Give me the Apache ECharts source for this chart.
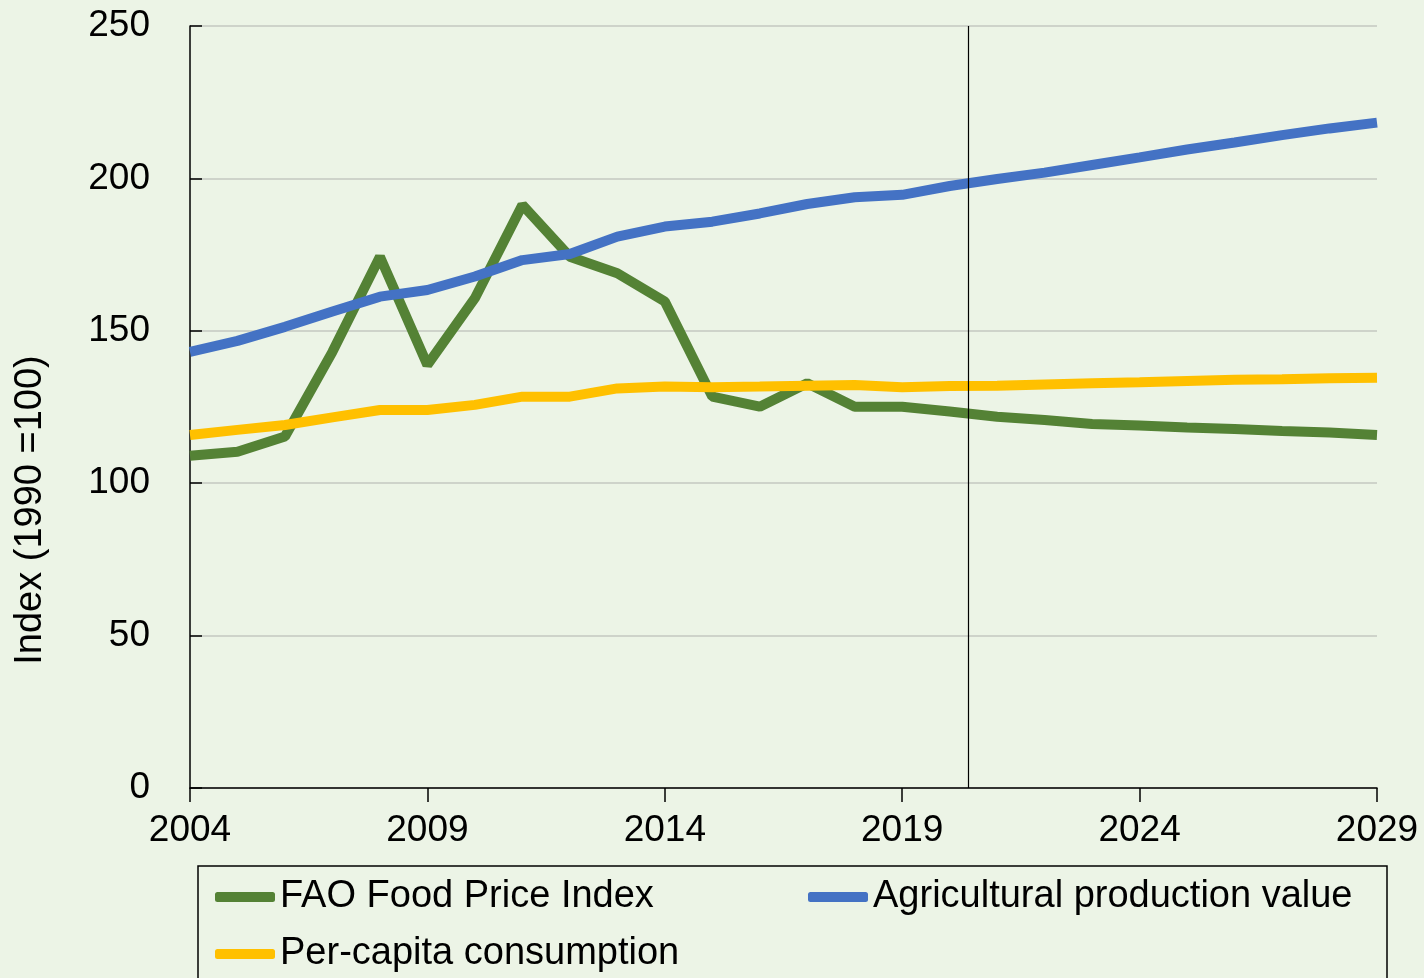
<!DOCTYPE html>
<html>
<head>
<meta charset="utf-8">
<script src="https://cdn.jsdelivr.net/npm/echarts@6/dist/echarts.min.js"></script>
<style>
  html, body { margin: 0; padding: 0; background: #ecf4e6; }
  #chart { width: 1424px; height: 978px; }
</style>
</head>
<body>
<div id="chart"></div>
<script>
// years 2004 .. 2029
const years = [2004, 2005, 2006, 2007, 2008, 2009, 2010, 2011, 2012, 2013, 2014, 2015, 2016,
    2017, 2018, 2019, 2020, 2021, 2022, 2023, 2024, 2025, 2026, 2027, 2028, 2029]
const foodPrice = [109, 110.3, 115.3, 143.1, 174.3, 138.8, 160.7, 191.3, 174.3, 168.9, 159.6, 128.4, 125.1,
    132.8, 125.1, 125.1, 123.5, 121.8, 120.7, 119.4, 118.9, 118.3, 117.8, 117.1, 116.6, 115.8]
const prodValue = [143.1, 146.7, 151.3, 156.3, 161.2, 163.4, 167.8, 173.2, 175.2, 180.9, 184.2, 185.8, 188.5,
    191.6, 193.8, 194.6, 197.5, 199.8, 201.9, 204.4, 206.9, 209.5, 211.8, 214.2, 216.4, 218.3]
const perCapita = [115.8, 117.5, 119.1, 121.6, 124.0, 124.0, 125.7, 128.4, 128.4, 131.1, 131.7, 131.5, 131.7,
    132.0, 132.2, 131.5, 131.9, 132.0, 132.4, 132.8, 133.1, 133.5, 133.9, 134.1, 134.4, 134.6]
const seriesNames = ['FAO Food Price Index', 'Agricultural production value', 'Per-capita consumption']
const projectionStart = 2020.4

const font = 'Liberation Sans'
const pairs = arr => years.map((y, i) => [y, arr[i]])

const chart = echarts.init(document.getElementById('chart'))

const legendBase = {
    orient: 'horizontal',
    padding: 0,
    itemWidth: 60,
    itemHeight: 10,
    icon: 'roundRect',
    textStyle: { fontFamily: font, fontSize: 38, color: '#000' }
}

chart.setOption({
    backgroundColor: '#ecf4e6',
    animation: false,
    grid: { left: 190, right: 47, top: 26, bottom: 190 },
    legend: [
        Object.assign({ left: 215, top: 878, data: [seriesNames[0]] }, legendBase),
        Object.assign({ left: 808, top: 878, data: [seriesNames[1]] }, legendBase),
        Object.assign({ left: 215, top: 935, data: [seriesNames[2]] }, legendBase)
    ],
    graphic: [
        {
            type: 'rect',
            shape: { x: 198, y: 866, width: 1189, height: 200 },
            style: { fill: 'none', stroke: '#000', lineWidth: 1.5 }
        },
        {
            type: 'text',
            x: 31,
            y: 510,
            rotation: Math.PI / 2,
            style: {
                text: 'Index (1990 =100)',
                fontFamily: font,
                fontSize: 38,
                fill: '#000',
                align: 'center',
                verticalAlign: 'middle'
            }
        }
    ],
    xAxis: {
        type: 'value',
        min: 2004,
        max: 2029,
        interval: 5,
        axisLine: { show: true, lineStyle: { color: '#000', width: 1.5 } },
        axisTick: { show: true, length: 14, lineStyle: { color: '#000', width: 1.5 } },
        splitLine: { show: false },
        axisLabel: {
            margin: 24,
            fontFamily: font,
            fontSize: 37,
            color: '#000',
            formatter: v => String(v)
        }
    },
    yAxis: {
        type: 'value',
        min: 0,
        max: 250,
        interval: 50,
        axisLine: { show: true, lineStyle: { color: '#000', width: 1.5 } },
        axisTick: { show: true, inside: true, length: 12, lineStyle: { color: '#000', width: 1.5 } },
        splitLine: { show: true, lineStyle: { color: '#c4c8c0', width: 1.5 } },
        axisLabel: {
            margin: 40,
            fontFamily: font,
            fontSize: 37,
            color: '#000'
        }
    },
    series: [
        {
            name: seriesNames[0],
            type: 'line',
            data: pairs(foodPrice),
            showSymbol: false,
            color: '#548235',
            lineStyle: { width: 10, color: '#548235' },
            z: 3
        },
        {
            name: seriesNames[1],
            type: 'line',
            data: pairs(prodValue),
            showSymbol: false,
            color: '#4472c4',
            lineStyle: { width: 10, color: '#4472c4' },
            z: 4
        },
        {
            name: seriesNames[2],
            type: 'line',
            data: pairs(perCapita),
            showSymbol: false,
            color: '#ffc000',
            lineStyle: { width: 10, color: '#ffc000' },
            z: 5,
            markLine: {
                silent: true,
                z: 10,
                symbol: 'none',
                label: { show: false },
                lineStyle: { color: '#000', width: 1.2, type: 'solid' },
                data: [{ xAxis: projectionStart }]
            }
        }
    ]
})
</script>
</body>
</html>
